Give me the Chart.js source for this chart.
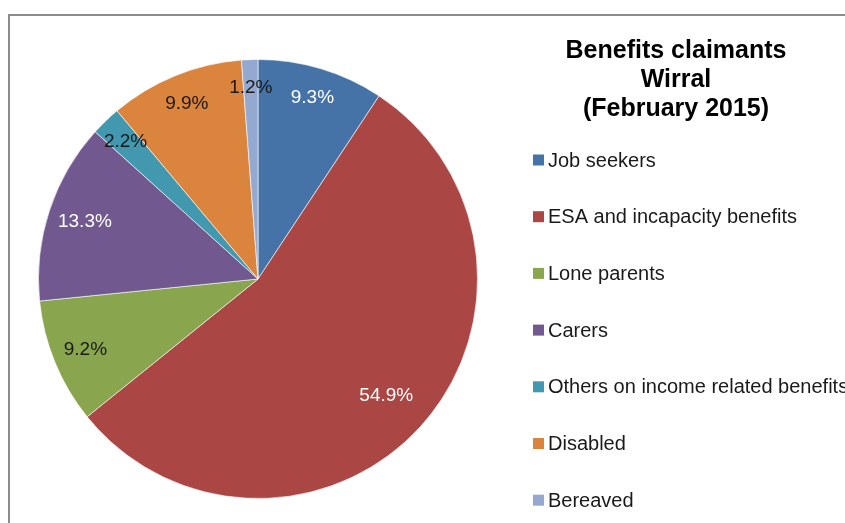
<!DOCTYPE html>
<html>
<head>
<meta charset="utf-8">
<script src="https://cdn.jsdelivr.net/npm/chart.js@4/dist/chart.umd.min.js"></script>
<style>
  html, body { margin: 0; padding: 0; background: #fff; }
  #wrap { position: relative; width: 845px; height: 523px; }
</style>
</head>
<body>
<div id="wrap"><canvas id="pieChart" width="845" height="523"></canvas></div>
<script>
// data
const categories = [
  "Job seekers",
  "ESA and incapacity benefits",
  "Lone parents",
  "Carers",
  "Others on income related benefits",
  "Disabled",
  "Bereaved"
];
const shares = [9.3, 54.9, 9.2, 13.3, 2.2, 9.9, 1.2];
const titleLines = ["Benefits claimants", "Wirral", "(February 2015)"];

const sliceColors = ["#4572A7", "#AA4643", "#89A54E", "#71588F", "#4198AF", "#DB843D", "#93A9CF"];
const labelColors = ["#ffffff", "#ffffff", "#1a1a1a", "#ffffff", "#1a1a1a", "#1a1a1a", "#1a1a1a"];
// how far out along each slice its label sits (fraction of radius)
const labelRadius = [0.86, 0.79, 0.85, 0.83, 0.87, 0.86, 0.87];

const FONT = "'Liberation Sans', Arial, sans-serif";

// frame, title, legend and slice labels
const decorPlugin = {
  id: "decor",
  beforeDraw(chart) {
    const ctx = chart.ctx;
    ctx.save();
    ctx.strokeStyle = "#8c8c8c";
    ctx.lineWidth = 2;
    ctx.strokeRect(9, 15, 900, 600);
    ctx.restore();
  },
  afterDraw(chart) {
    const ctx = chart.ctx;
    ctx.save();

    // slice labels
    const meta = chart.getDatasetMeta(0);
    ctx.font = "19px " + FONT;
    ctx.textAlign = "center";
    ctx.textBaseline = "middle";
    meta.data.forEach((arc, i) => {
      const p = arc.getProps(["x", "y", "startAngle", "endAngle", "outerRadius"], true);
      const mid = (p.startAngle + p.endAngle) / 2;
      const r = p.outerRadius * labelRadius[i];
      ctx.fillStyle = labelColors[i];
      ctx.fillText(shares[i].toFixed(1) + "%", p.x + Math.cos(mid) * r, p.y + Math.sin(mid) * r);
    });

    // title
    ctx.fillStyle = "#000";
    ctx.font = "bold 25px " + FONT;
    titleLines.forEach((t, i) => ctx.fillText(t, 676, 51 + i * 29));

    // legend
    ctx.textAlign = "left";
    ctx.font = "20px " + FONT;
    categories.forEach((c, i) => {
      const y = 160 + i * 56.7;
      ctx.fillStyle = sliceColors[i];
      ctx.fillRect(533, y - 5.5, 11, 11);
      ctx.fillStyle = "#1a1a1a";
      ctx.fillText(c, 548, y + 1);
    });
    ctx.restore();
  }
};

const ctx = document.getElementById("pieChart").getContext("2d");
new Chart(ctx, {
  type: "pie",
  data: {
    labels: categories,
    datasets: [{
      data: shares,
      backgroundColor: sliceColors,
      borderColor: "rgba(255,255,255,0.6)",
      borderWidth: 1
    }]
  },
  options: {
    responsive: false,
    animation: false,
    layout: { padding: { left: 38, right: 367, top: 59, bottom: 24 } },
    plugins: {
      legend: { display: false },
      title: { display: false },
      tooltip: { enabled: false }
    }
  },
  plugins: [decorPlugin]
});
</script>
</body>
</html>
